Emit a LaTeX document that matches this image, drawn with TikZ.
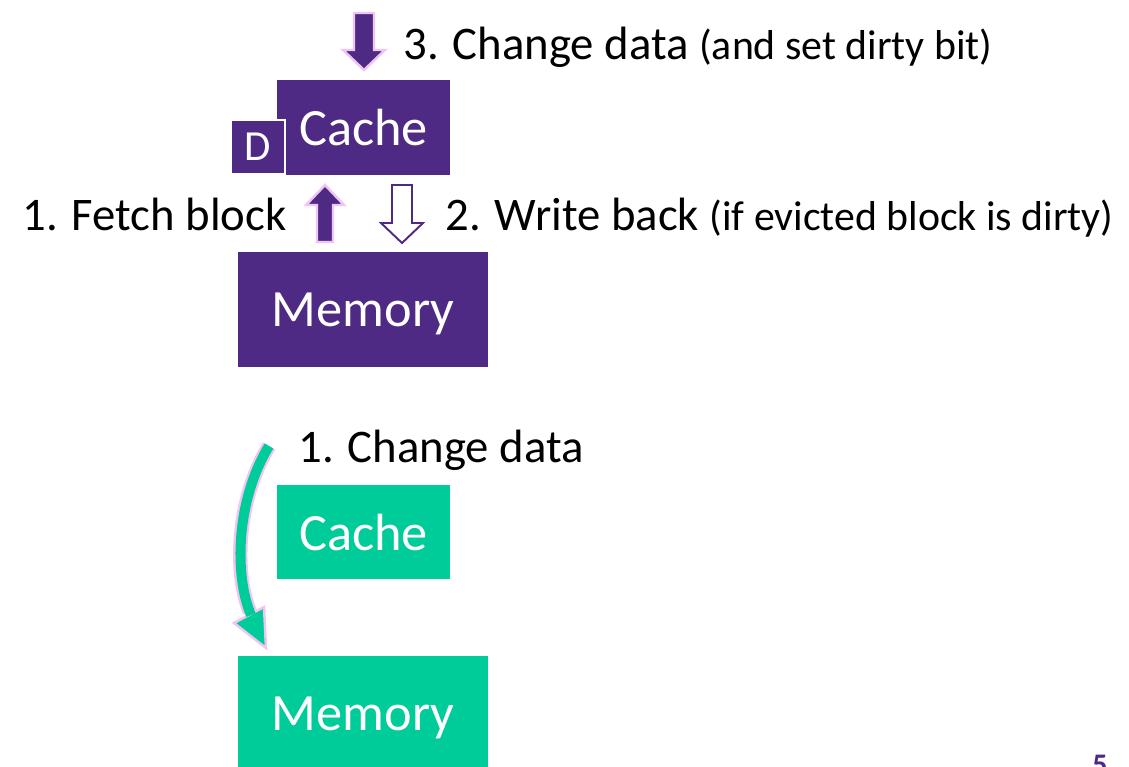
\documentclass[tikz,border=0pt]{standalone}
\usepackage{fontspec}
\setmainfont{Carlito}
\usetikzlibrary{positioning,calc}
\definecolor{nupurple}{RGB}{78,42,132}
\definecolor{mint}{RGB}{0,204,153}
\definecolor{glow}{RGB}{242,196,242}
\newcommand{\smallfont}{\fontsize{23.8}{28}\selectfont}
\tikzset{every picture/.style={x=0.02cm,y=-0.02cm},
  blk/.style={inner sep=0pt, text=white, text depth=0pt, font=\fontsize{29.8}{34}\selectfont},
  cachebox/.style={blk, minimum width=3.46cm, minimum height=1.9cm},
  membox/.style={blk, minimum width=5cm, minimum height=2.3cm},
  dbox/.style={blk, fill=nupurple, draw=white, line width=1.2pt, minimum size=1.08cm, font=\fontsize{24.4}{28}\selectfont},
  lbl/.style={inner sep=0pt, font=\fontsize{26.6}{30}\selectfont},
  fatarrow/.style={fill=nupurple, draw=glow, line width=1.4pt},
  hollowarrow/.style={fill=white, draw=nupurple, line width=1.1pt}}
% 竖直块箭头: 样式, x, 尾部 y, 箭头根部 y, 尖端 y, 杆半宽
\newcommand{\vbarrow}[6]{%
  \draw[#1] ({#2-#6},#3) -- ({#2+#6},#3) -- ({#2+#6},#4) -- ({#2+#6+11},#4)
    -- (#2,#5) -- ({#2-#6-11},#4) -- ({#2-#6},#4) -- cycle;}

\begin{document}
\begin{tikzpicture}
    \useasboundingbox (0,0) rectangle (1129,767);

    % 写回 (上半部分)
    \node[cachebox, fill=nupurple] (cacheA) at (363.5,127.5) {Cache};
    \node[dbox] (dirty) at (258,147) {D};
    \node[membox, fill=nupurple] (memA) at (363,309.5) {Memory};
    \vbarrow{fatarrow}{364}{13}{50}{70}{10}
    \vbarrow{fatarrow}{325}{242}{205}{185}{8}
    \vbarrow{hollowarrow}{402}{185}{223}{243}{10}
    \node[lbl, anchor=base west] (change) at (403,60) {3. Change data {\smallfont (and set dirty bit)}};
    \node[lbl, anchor=base east] (fetch) at (287,230) {1. Fetch block};
    \node[lbl, anchor=base west] (wback) at (445,230) {2. Write back {\smallfont (if evicted block is dirty)}};

    % 写直达 (下半部分)
    \node[cachebox, fill=mint] (cacheB) at (363.5,532) {Cache};
    \node[membox, fill=mint] (memB) at (363,713.5) {Memory};
    \node[lbl, anchor=base west] (changeB) at (298,462) {1. Change data};
    \draw[glow, line width=8.2pt] (269,446) .. controls (236,500) and (234,575) .. (250,612);
    \draw[fill=mint, draw=glow, line width=1.4pt] (234,623) -- (266,648) -- (264,607) -- cycle;
    \draw[mint, line width=5.7pt] (269,446) .. controls (236,500) and (234,575) .. (251,615);

    % 页码
    \node[inner sep=0pt, anchor=north, text=nupurple, font=\fontsize{17}{20}\selectfont\bfseries] (pgnum) at (1100,755) {5};
\end{tikzpicture}
\end{document}
